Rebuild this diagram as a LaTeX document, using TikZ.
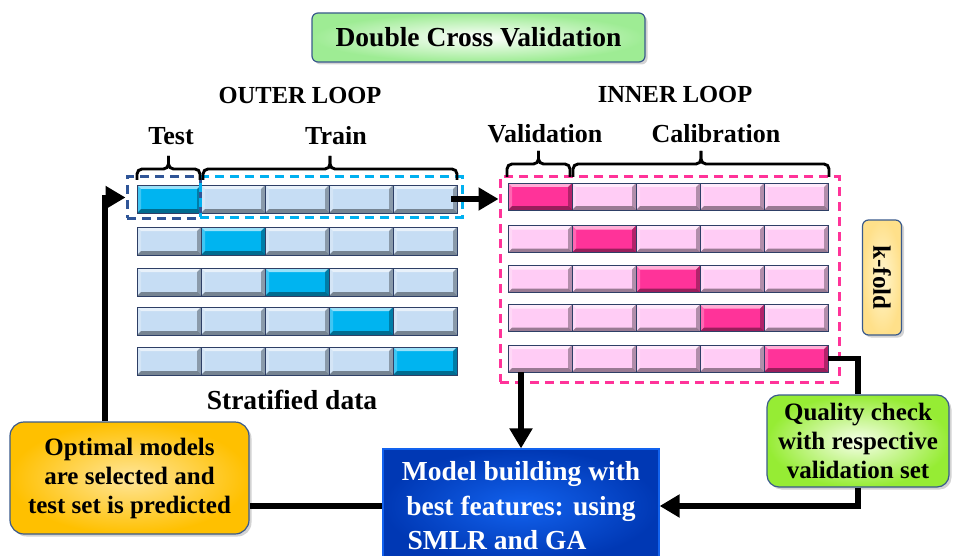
\documentclass[tikz,border=0pt]{standalone}
\usepackage{fontspec}
\setmainfont{Liberation Serif}
\usetikzlibrary{arrows.meta,shadows,calc}

\definecolor{cellblue}{HTML}{C6DDF4}
\definecolor{testblue}{HTML}{00B4F0}
\definecolor{cellpink}{HTML}{FFCCF5}
\definecolor{valpink}{HTML}{FF3399}
\definecolor{celledge}{HTML}{2E3F66}
\definecolor{dashnavy}{HTML}{2F5597}
\definecolor{dashcyan}{HTML}{00B0F0}
\definecolor{dashpink}{HTML}{FF3399}
\definecolor{boxedge}{HTML}{3A5A8C}
\definecolor{titlegreen}{HTML}{9EEC94}
\definecolor{goldout}{HTML}{FFC000}
\definecolor{goldin}{HTML}{FFE69A}
\definecolor{limeout}{HTML}{96EC34}
\definecolor{limein}{HTML}{F6FFEA}
\definecolor{kout}{HTML}{FFE08A}
\definecolor{kin}{HTML}{FFF6CF}
\definecolor{blueout}{HTML}{0038B4}
\definecolor{bluein}{HTML}{1262EE}

\tikzset{
  % bevelled data block
  cell/.style={rectangle, inner sep=0pt, minimum width=64pt, minimum height=28pt,
    draw=celledge, line width=0.9pt,
    path picture={
      \coordinate (bnw) at (path picture bounding box.north west);
      \coordinate (bne) at (path picture bounding box.north east);
      \coordinate (bsw) at (path picture bounding box.south west);
      \coordinate (bse) at (path picture bounding box.south east);
      \fill[white,opacity=.6] (bnw) -- (bne) -- ($(bne)+(-4pt,-4pt)$) -- ($(bnw)+(4pt,-4pt)$) -- cycle;
      \fill[white,opacity=.25] (bnw) -- ($(bnw)+(4pt,-4pt)$) -- ($(bsw)+(4pt,4pt)$) -- (bsw) -- cycle;
      \fill[black,opacity=.4] (bsw) -- (bse) -- ($(bse)+(-4pt,4pt)$) -- ($(bsw)+(4pt,4pt)$) -- cycle;
      \fill[black,opacity=.3] (bse) -- (bne) -- ($(bne)+(-4pt,-4pt)$) -- ($(bse)+(-4pt,4pt)$) -- cycle;
    }},
  dashframe/.style={rectangle, inner sep=0pt, line width=3pt, dash pattern=on 9pt off 6pt},
  lbl/.style={inner sep=0pt, font=\fontsize{26}{30}\selectfont\bfseries},
  looplbl/.style={inner sep=0pt, font=\fontsize{24.5}{28}\selectfont\bfseries},
  bracepen/.style={line width=2.9pt, rounded corners=5pt},
  conn/.style={line width=5.5pt, -{Triangle[length=20pt,width=22pt]}},
  wire/.style={line width=5.5pt},
  softshadow/.style={drop shadow={opacity=.35, shadow xshift=2.5pt, shadow yshift=-2.5pt}},
  titlebox/.style={rectangle, rounded corners=6pt, draw=boxedge, line width=1.2pt,
    inner color=white, outer color=titlegreen, softshadow,
    minimum width=333pt, minimum height=49pt, font=\fontsize{27.5}{30}\selectfont\bfseries},
  roundbox/.style={rectangle, draw=boxedge, line width=1.2pt, align=center, inner sep=0pt,
    font=\fontsize{25}{29}\selectfont\bfseries, softshadow},
}

% curly bracket lying on its side, tip pointing up
\newcommand\drawbrace[5]{%
  \draw[bracepen] (#1,#3) -- (#1,#4) -- ({(#1+#2)/2},#4) -- ({(#1+#2)/2},#5);
  \draw[bracepen] (#2,#3) -- (#2,#4) -- ({(#1+#2)/2},#4) -- ({(#1+#2)/2},#5);
}

\begin{document}
\begin{tikzpicture}[x=1pt,y=-1pt]
\useasboundingbox (0,0) rectangle (955,556);
\clip (0,0) rectangle (955,556);

% heading
\node[titlebox] (title) at (478.5,37.5) {Double Cross Validation};
\node[looplbl] (outer) at (300,96) {OUTER LOOP};
\node[looplbl] (innerl) at (675,95) {INNER LOOP};

% outer loop blocks
\foreach \r/\y in {1/199,2/241,3/282,4/321,5/361}{
  \foreach \c in {1,...,5}{
    \ifnum\r=\c \def\cc{testblue}\else\def\cc{cellblue}\fi
    \node[cell, fill=\cc] (o\r\c) at ({105+64*\c},\y) {};
  }
}
% inner loop blocks
\foreach \r/\y in {1/196.5,2/239,3/279,4/318,5/358.5}{
  \foreach \c in {1,...,5}{
    \ifnum\r=\c \def\cc{valpink}\else\def\cc{cellpink}\fi
    \node[cell, fill=\cc, minimum height=27pt] (i\r\c) at ({476+64*\c},\y) {};
  }
}

% dashed frames
\node[dashframe, draw=dashnavy, minimum width=73pt, minimum height=41pt] (testbox) at (163.5,197.5) {};
\node[dashframe, draw=dashcyan, minimum width=262pt, minimum height=40pt] (trainbox) at (331,197) {};
\node[dashframe, draw=dashpink, minimum width=339pt, minimum height=205pt] (innerbox) at (669.5,279.5) {};

% braces and their labels
\drawbrace{137}{200}{180}{169}{156}
\drawbrace{203}{457}{180}{169}{156}
\drawbrace{507}{570}{177}{164}{151}
\drawbrace{573}{829}{177}{164}{151}
\node[lbl] (testl) at (171,136) {Test};
\node[lbl] (trainl) at (336,136) {Train};
\node[lbl] (vall) at (545,134) {Validation};
\node[lbl] (call) at (716,134) {Calibration};
\node[lbl, font=\fontsize{27.5}{30}\selectfont\bfseries] (strat) at (292,400) {Stratified data};

% k-fold tag
\node[roundbox, rounded corners=6pt, inner color=kin, outer color=kout, rotate=-90,
      minimum width=115pt, minimum height=39pt] (kfold) at (882,277.5) {k-fold};

% process boxes
\node[roundbox, rounded corners=14pt, inner color=goldin, outer color=goldout,
      minimum width=239pt, minimum height=112pt] (optimal) at (129.5,478)
      {Optimal models\\are selected and\\test set is predicted};
\node[roundbox, rounded corners=12pt, inner color=limein, outer color=limeout,
      minimum width=182pt, minimum height=92pt] (quality) at (858,441)
      {Quality check\\with respective\\validation set};
\node[rectangle, draw=bluein, line width=1.2pt, inner color=bluein, outer color=blueout,
      minimum width=276pt, minimum height=114pt, align=center, inner sep=0pt,
      text=white, font=\fontsize{27.5}{34.5}\selectfont\bfseries] (model) at (521,506)
      {Model building with\\best features: using\\SMLR and GA\hspace*{48pt}};

% connectors
\draw[conn] ([xshift=-6pt]o15.east) -- (o15.east -| innerbox.west);
\draw[conn] (i51.south -| model.north) -- (model.north);
\draw[wire] (i55.east) -| (quality.north);
\draw[conn] (quality.south) |- (model.east);
\draw[wire] (optimal.east |- model.east) -- (model.west);
\draw[conn] ([xshift=-24.5pt]optimal.north) |- (testbox.west);
\end{tikzpicture}
\end{document}
